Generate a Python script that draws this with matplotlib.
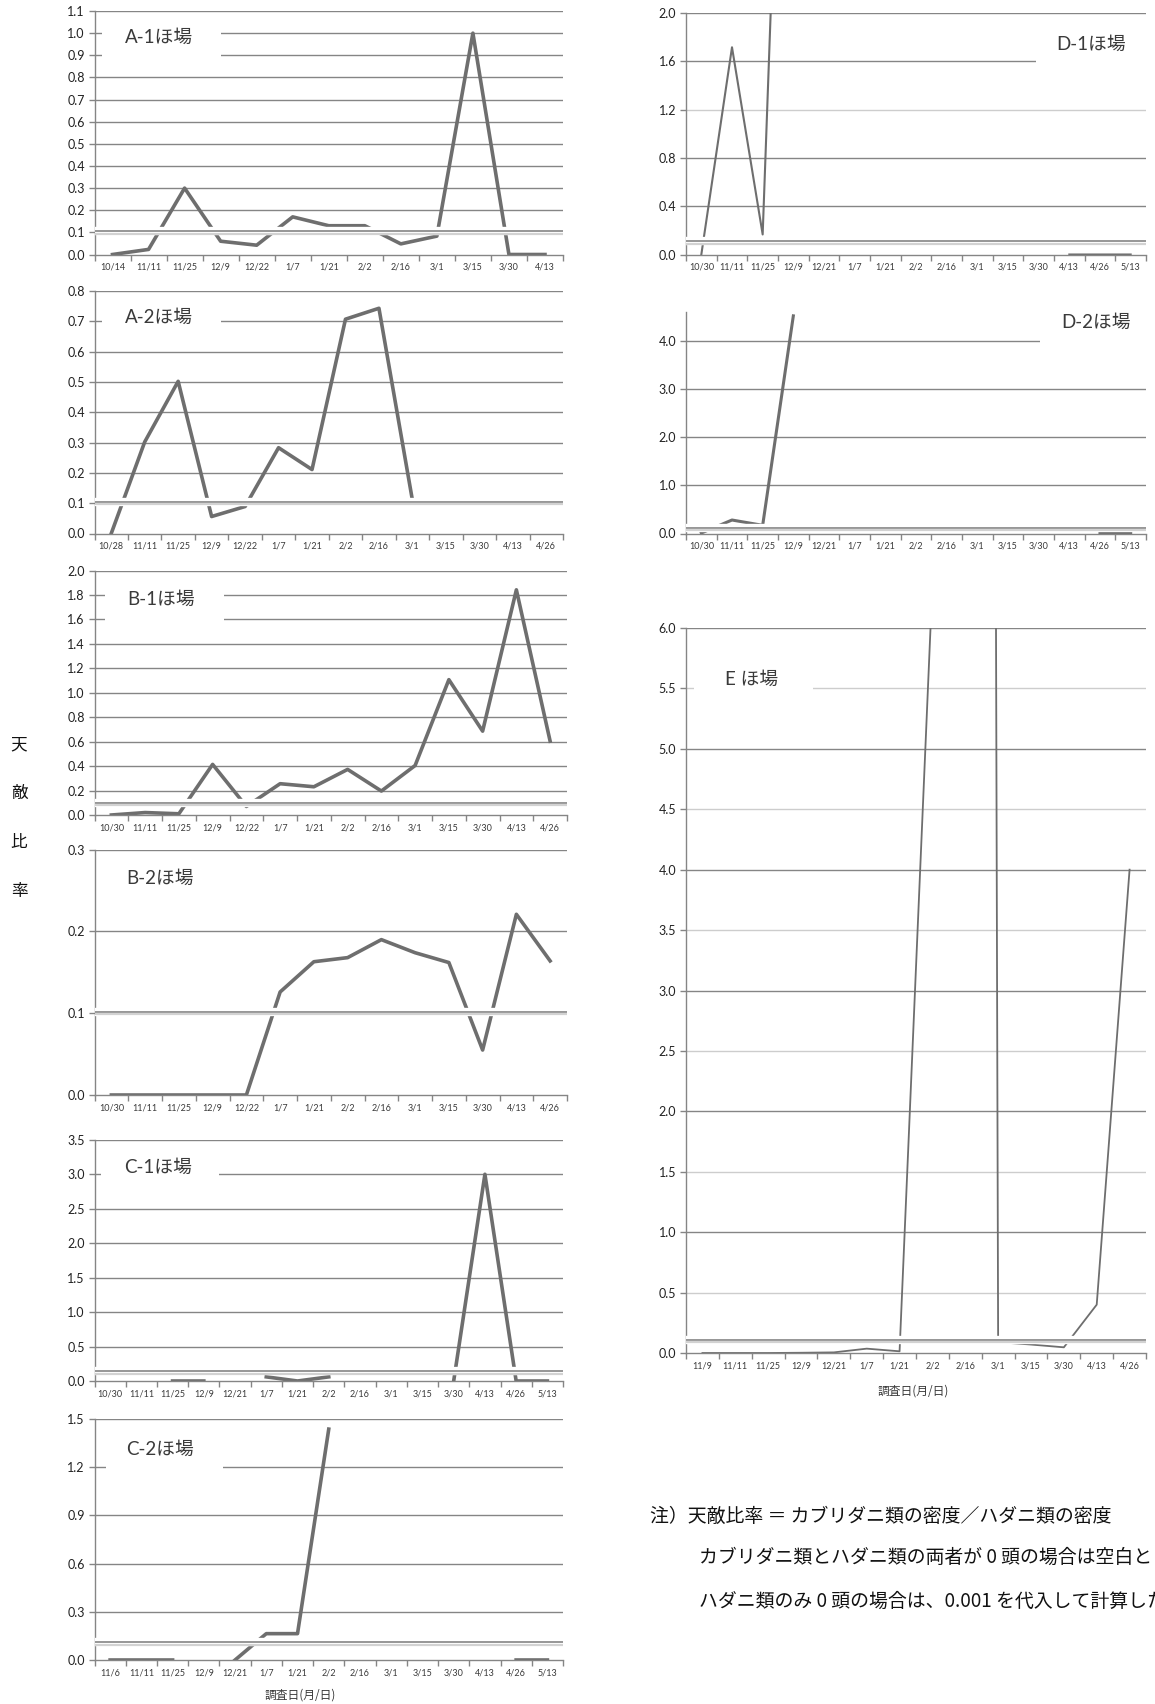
import numpy as np
import matplotlib.pyplot as plt
from matplotlib.patches import Rectangle
from matplotlib.transforms import offset_copy

plt.rcParams['font.family'] = ['Lato', 'Noto Sans CJK JP', 'DejaVu Sans']

nan = np.nan
W, H = 1155, 1704

# 調査日（月/日）
dates_a1 = ["10/14", "11/11", "11/25", "12/9", "12/22", "1/7", "1/21", "2/2", "2/16", "3/1", "3/15", "3/30", "4/13"]
dates_a2 = ["10/28", "11/11", "11/25", "12/9", "12/22", "1/7", "1/21", "2/2", "2/16", "3/1", "3/15", "3/30", "4/13", "4/26"]
dates_b = ["10/30", "11/11", "11/25", "12/9", "12/22", "1/7", "1/21", "2/2", "2/16", "3/1", "3/15", "3/30", "4/13", "4/26"]
dates_c1 = ["10/30", "11/11", "11/25", "12/9", "12/21", "1/7", "1/21", "2/2", "2/16", "3/1", "3/15", "3/30", "4/13", "4/26", "5/13"]
dates_c2 = ["11/6", "11/11", "11/25", "12/9", "12/21", "1/7", "1/21", "2/2", "2/16", "3/1", "3/15", "3/30", "4/13", "4/26", "5/13"]
dates_d = ["10/30", "11/11", "11/25", "12/9", "12/21", "1/7", "1/21", "2/2", "2/16", "3/1", "3/15", "3/30", "4/13", "4/26", "5/13"]
dates_e = ["11/9", "11/11", "11/25", "12/9", "12/21", "1/7", "1/21", "2/2", "2/16", "3/1", "3/15", "3/30", "4/13", "4/26"]

# 天敵比率（空白は nan）
ratio_a1 = [0.0, 0.023, 0.30, 0.06, 0.042, 0.17, 0.13, 0.13, 0.048, 0.083, 1.0, 0.0, 0.0]
ratio_a2 = [0.0, 0.302, 0.502, 0.056, 0.089, 0.283, 0.211, 0.707, 0.743, 0.11, nan, nan, nan, nan]
ratio_b1 = [0.0, 0.02, 0.01, 0.414, 0.07, 0.256, 0.231, 0.373, 0.196, 0.405, 1.107, 0.686, 1.842, 0.604]
ratio_b2 = [0.0, 0.0, 0.0, 0.0, 0.0, 0.126, 0.163, 0.168, 0.190, 0.174, 0.162, 0.055, 0.221, 0.164]
ratio_c1 = [nan, nan, 0.0, 0.0, nan, 0.06, 0.0, 0.06, nan, nan, nan, 0.0, 3.0, 0.0, 0.0]
ratio_c2 = [0.0, 0.0, 0.0, nan, 0.0, 0.164, 0.164, 1.437, nan, nan, nan, nan, nan, 0.0, 0.0]
ratio_d1 = [0.0, 1.716, 0.166, 7.2, nan, nan, nan, nan, nan, nan, nan, nan, 0.0, 0.0, 0.0]
ratio_d2 = [0.01, 0.28, 0.17, 4.52, nan, nan, nan, nan, nan, nan, nan, nan, nan, 0.02, 0.0]
ratio_e = [0.0, 0.0, 0.0, 0.002, 0.005, 0.036, 0.014, 6.37, 91.0, 0.09, 0.07, 0.047, 0.40, 4.0]

# 目盛
yticks_a1 = [0.0, 0.1, 0.2, 0.3, 0.4, 0.5, 0.6, 0.7, 0.8, 0.9, 1.0, 1.1]
yticks_a2 = [0.0, 0.1, 0.2, 0.3, 0.4, 0.5, 0.6, 0.7, 0.8]
yticks_b1 = [0.0, 0.2, 0.4, 0.6, 0.8, 1.0, 1.2, 1.4, 1.6, 1.8, 2.0]
yticks_b2 = [0.0, 0.1, 0.2, 0.3]
yticks_c1 = [0.0, 0.5, 1.0, 1.5, 2.0, 2.5, 3.0, 3.5]
yticks_c2 = [0.0, 0.3, 0.6, 0.9, 1.2, 1.5]
yticks_d1 = [0.0, 0.4, 0.8, 1.2, 1.6, 2.0]
yticks_d2 = [0.0, 1.0, 2.0, 3.0, 4.0]
yticks_e = [0.0, 0.5, 1.0, 1.5, 2.0, 2.5, 3.0, 3.5, 4.0, 4.5, 5.0, 5.5, 6.0]

fig = plt.figure(figsize=(W / 100, H / 100), dpi=100)

LINE = '#6e6e6e'
GRID = '#858585'
LIGHT = '#cdcdcd'
TXT = '#3a3a3a'


def panel(box_px, dates, vals, yticks, top, name, name_xy, cover=None,
          lw=2.6, band=0.1, light=()):
    l, t, r, b = box_px
    ax = fig.add_axes([l / W, 1 - b / H, (r - l) / W, (b - t) / H])
    n = len(dates)
    x = np.arange(n)
    ax.set_xlim(-0.5, n - 0.5)
    ax.set_ylim(0, top)

    # 目盛線
    for v in yticks[1:]:
        ax.axhline(v, color=LIGHT if v in light else GRID, lw=1.0, zorder=1)

    # ほ場名の白抜き
    if cover is not None:
        x0, x1, y0, y1 = cover
        ax.add_patch(Rectangle((x0, y0), x1 - x0, y1 - y0, transform=ax.transAxes,
                               facecolor='white', edgecolor='none', zorder=1.5,
                               clip_on=False))

    ax.plot(x, vals, color=LINE, lw=lw, zorder=2)

    # 0.1 付近の二重線
    ax.axhline(band, color='white', lw=6.0, zorder=3)
    ax.axhline(band, color='#8e8e8e', lw=1.3, zorder=3.1)
    tr = offset_copy(ax.get_yaxis_transform(), fig=fig, x=0, y=-2.5, units='dots')
    ax.plot([0, 1], [band, band], transform=tr, color='#d2d2d2', lw=1.6, zorder=3.1)

    ax.text(name_xy[0], name_xy[1], name, transform=ax.transAxes, fontsize=13.5,
            color=TXT, va='center', ha='left', zorder=4)

    ax.set_xticks(x)
    ax.set_xticklabels(dates)
    ax.set_xticks(np.arange(-0.5, n), minor=True)
    ax.tick_params(axis='x', which='major', length=0, pad=6, labelsize=6.5, labelcolor=TXT)
    ax.tick_params(axis='x', which='minor', length=4, color=GRID, width=1)
    ax.set_yticks(yticks)
    ax.set_yticklabels([f"{v:.1f}" for v in yticks])
    ax.tick_params(axis='y', length=4, color=GRID, width=1, pad=3, labelsize=9,
                   labelcolor='#222222')
    for s in ['top', 'right']:
        ax.spines[s].set_visible(False)
    for s in ['left', 'bottom']:
        ax.spines[s].set_color(GRID)
        ax.spines[s].set_linewidth(1.0)
    return ax


# 左列
panel((94.5, 11, 563, 254.5), dates_a1, ratio_a1, yticks_a1, 1.1, "A-1ほ場",
      (0.065, 0.89), cover=(0.016, 0.27, 0.77, 0.955), band=0.104)
panel((94.5, 291, 563, 533.5), dates_a2, ratio_a2, yticks_a2, 0.8, "A-2ほ場",
      (0.065, 0.89), cover=(0.016, 0.27, 0.81, 0.95), band=0.105)
panel((94.5, 570.5, 567, 815), dates_b, ratio_b1, yticks_b1, 2.0, "B-1ほ場",
      (0.07, 0.88), cover=(0.022, 0.275, 0.75, 0.95), band=0.1)
panel((94.5, 849.7, 567, 1095), dates_b, ratio_b2, yticks_b2, 0.3, "B-2ほ場",
      (0.067, 0.885), band=0.102)
panel((94.5, 1139.8, 563, 1381), dates_c1, ratio_c1, yticks_c1, 3.5, "C-1ほ場",
      (0.063, 0.885), cover=(0.014, 0.266, 0.79, 0.93), band=0.14)
panel((94.5, 1419, 563, 1660), dates_c2, ratio_c2, yticks_c2, 1.5, "C-2ほ場",
      (0.068, 0.873), cover=(0.025, 0.274, 0.73, 0.93), band=0.11)

# 右列
panel((686, 13, 1146, 254.5), dates_d, ratio_d1, yticks_d1, 2.0, "D-1ほ場",
      (0.805, 0.87), cover=(0.76, 1.03, 0.72, 0.95), lw=1.5, band=0.11, light=(1.2,))
panel((686, 312, 1146, 533.5), dates_d, ratio_d2, yticks_d2, 4.6, "D-2ほ場",
      (0.815, 0.955), cover=(0.77, 1.03, 0.80, 0.995), lw=2.2, band=0.124)
panel((686, 628, 1146, 1353), dates_e, ratio_e, yticks_e, 6.0, "E ほ場",
      (0.085, 0.929), cover=(0.018, 0.275, 0.883, 0.967), lw=1.3, band=0.11,
      light=(0.5, 1.5, 2.5, 3.5, 4.5, 5.5))

# 縦軸ラベル
for ch, y in zip("天敵比率", [744, 793, 842, 891]):
    fig.text(19 / W, 1 - y / H, ch, fontsize=12, ha='center', va='center', color='#111111')

# 横軸ラベル
cjk = ['Noto Sans CJK JP', 'DejaVu Sans']
fig.text(300 / W, 1 - 1695 / H, "調査日(月/日)", fontsize=8.5, family=cjk,
         ha='center', va='center', color=TXT)
fig.text(913 / W, 1 - 1391 / H, "調査日(月/日)", fontsize=8.5, family=cjk,
         ha='center', va='center', color=TXT)

# 注記
fig.text(650 / W, 1 - 1516 / H, "注）天敵比率 ＝ カブリダニ類の密度／ハダニ類の密度",
         fontsize=13.6, family=cjk, va='center', color='#111111')
fig.text(699 / W, 1 - 1557 / H, "カブリダニ類とハダニ類の両者が 0 頭の場合は空白とした。",
         fontsize=13.6, family=cjk, va='center', color='#111111')
fig.text(699 / W, 1 - 1601 / H, "ハダニ類のみ 0 頭の場合は、0.001 を代入して計算した。",
         fontsize=13.6, family=cjk, va='center', color='#111111')

fig.savefig("out.png", dpi=100, facecolor='white')
